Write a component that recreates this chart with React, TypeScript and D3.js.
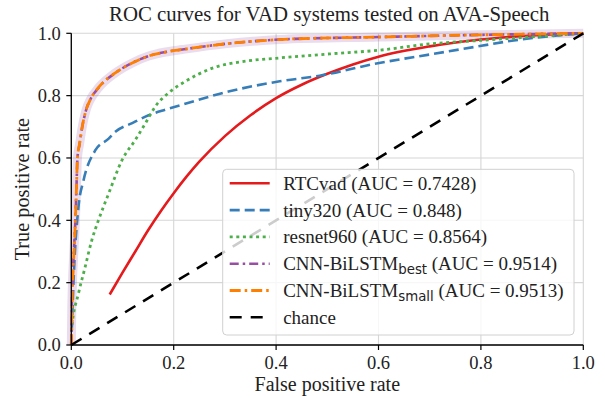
import React from "react"
import * as d3 from "d3"

// ROC points: [false positive rate, true positive rate]
const rtcvad: [number, number][] = [
    [0.075, 0.162], [0.1, 0.232], [0.125, 0.3], [0.15, 0.368], [0.175, 0.43], [0.2, 0.487],
    [0.225, 0.54], [0.25, 0.588], [0.3, 0.67], [0.35, 0.737], [0.4, 0.792], [0.45, 0.835],
    [0.5, 0.87], [0.55, 0.9], [0.6, 0.925], [0.7, 0.958], [0.8, 0.98], [0.9, 0.993], [1, 1],
]
const tiny320: [number, number][] = [
    [0, 0], [0.005, 0.229], [0.014, 0.443], [0.024, 0.529], [0.047, 0.625], [0.073, 0.662],
    [0.086, 0.684], [0.119, 0.712], [0.151, 0.737], [0.184, 0.755], [0.217, 0.771],
    [0.309, 0.814], [0.407, 0.846], [0.485, 0.864], [0.596, 0.903], [0.7, 0.932],
    [0.798, 0.959], [0.864, 0.977], [1, 1],
]
const resnet960: [number, number][] = [
    [0, 0], [0.001, 0.057], [0.014, 0.165], [0.027, 0.25], [0.04, 0.336], [0.053, 0.4],
    [0.073, 0.486], [0.099, 0.593], [0.125, 0.658], [0.145, 0.712], [0.164, 0.765],
    [0.19, 0.809], [0.22, 0.843], [0.277, 0.889], [0.342, 0.911], [0.407, 0.921],
    [0.505, 0.934], [0.603, 0.946], [0.7, 0.966], [0.798, 0.977], [0.896, 0.988], [1, 1],
]
const cnnBest: [number, number][] = [
    [0, 0], [0.001, 0.12], [0.005, 0.3], [0.008, 0.4], [0.01, 0.5], [0.012, 0.6],
    [0.016, 0.643], [0.021, 0.696], [0.03, 0.76], [0.037, 0.787], [0.053, 0.825],
    [0.086, 0.873], [0.119, 0.905], [0.151, 0.927], [0.184, 0.94], [0.217, 0.948],
    [0.3, 0.966], [0.407, 0.98], [0.6, 0.988], [0.8, 0.995], [1, 1],
]
const cnnSmall: [number, number][] = [
    [0, 0], [0.001, 0.1], [0.005, 0.29], [0.008, 0.4], [0.01, 0.5], [0.012, 0.6],
    [0.016, 0.645], [0.021, 0.697], [0.03, 0.76], [0.037, 0.787], [0.053, 0.826],
    [0.086, 0.873], [0.119, 0.905], [0.151, 0.927], [0.184, 0.94], [0.217, 0.948],
    [0.3, 0.966], [0.407, 0.98], [0.6, 0.988], [0.8, 0.995], [1, 1],
]
const chance: [number, number][] = [[0, 0], [1, 1]]

const ticks = [0, 0.2, 0.4, 0.6, 0.8, 1.0]
const legendNames = ["RTCvad", "tiny320", "resnet960", "CNN-BiLSTM", "CNN-BiLSTM", "chance"]
const legendSubs = ["", "", "", "best", "small", ""]
const legendAuc = [" (AUC = 0.7428)", " (AUC = 0.848)", " (AUC = 0.8564)", " (AUC = 0.9514)", " (AUC = 0.9513)", ""]

const W = 605
const H = 398
const margin = { left: 71.3, right: 21.7, top: 33.3, bottom: 53 }
const serif = "'Liberation Serif', 'Times New Roman', serif"

const series = [
    { data: rtcvad, color: "#e41a1c", dash: "none", w: 2.6 },
    { data: tiny320, color: "#377eb8", dash: "10,5", w: 2.6 },
    { data: resnet960, color: "#4daf4a", dash: "3,3.6", w: 2.8 },
    { data: cnnBest, color: "#984ea3", dash: "9,4,2.5,4", w: 2.6 },
    { data: cnnSmall, color: "#ff7f00", dash: "11,4,2.5,4", w: 2.8 },
    { data: chance, color: "#000000", dash: "12,9", w: 2.6 },
]

export default function App() {
    const x = d3.scaleLinear().domain([0, 1]).range([margin.left, W - margin.right])
    const y = d3.scaleLinear().domain([0, 1]).range([H - margin.bottom, margin.top])
    const line = d3.line<[number, number]>().x((d) => x(d[0])).y((d) => y(d[1])).curve(d3.curveMonotoneX)

    const lx = 222.7
    const ly = 169.3
    const rowH = 26.8

    return (
        <svg width={W} height={H} style={{ position: "absolute", left: 0, top: 0 }} fontFamily={serif}>
            <rect width={W} height={H} fill="#fff" />
            {/* grid */}
            {ticks.map((t) => (
                <g key={"g" + t}>
                    <line x1={x(t)} x2={x(t)} y1={y(0)} y2={y(1)} stroke="#d6d6d6" strokeWidth={1.1} />
                    <line x1={x(0)} x2={x(1)} y1={y(t)} y2={y(t)} stroke="#d6d6d6" strokeWidth={1.1} />
                </g>
            ))}
            {/* confidence band of the best model */}
            <path d={line(cnnBest) ?? ""} fill="none" stroke="#984ea3" strokeOpacity={0.2} strokeWidth={9} strokeLinejoin="round" />
            {series.map((s, i) => (
                <path key={"s" + i} d={line(s.data) ?? ""} fill="none" stroke={s.color} strokeWidth={s.w}
                    strokeDasharray={s.dash} />
            ))}
            {/* axes */}
            <line x1={x(0)} x2={x(1)} y1={y(0)} y2={y(0)} stroke="#000" strokeWidth={1.3} />
            <line x1={x(0)} x2={x(0)} y1={y(0)} y2={y(1)} stroke="#000" strokeWidth={1.3} />
            {ticks.map((t) => (
                <g key={"t" + t}>
                    <line x1={x(t)} x2={x(t)} y1={y(0)} y2={y(0) + 5} stroke="#000" strokeWidth={1.2} />
                    <text x={x(t)} y={y(0) + 24} textAnchor="middle" fontSize={18.5} fill="#222">{t.toFixed(1)}</text>
                    <line x1={x(0) - 5} x2={x(0)} y1={y(t)} y2={y(t)} stroke="#000" strokeWidth={1.2} />
                    <text x={x(0) - 10.5} y={y(t) + 6.3} textAnchor="end" fontSize={18.5} fill="#222">{t.toFixed(1)}</text>
                </g>
            ))}
            <text x={(x(0) + x(1)) / 2} y={391} textAnchor="middle" fontSize={20} fill="#222">False positive rate</text>
            <text transform={`translate(29,${(y(0) + y(1)) / 2}) rotate(-90)`} textAnchor="middle" fontSize={20.3} fill="#222">True positive rate</text>
            <text x={(x(0) + x(1)) / 2 + 2} y={21} textAnchor="middle" fontSize={20.8} fill="#222">ROC curves for VAD systems tested on AVA-Speech</text>
            {/* legend */}
            <rect x={lx} y={ly} width={351.3} height={165.7} rx={4} fill="#fff" fillOpacity={0.8} stroke="#d0d0d0" strokeWidth={1} />
            {series.map((s, i) => {
                const cy = ly + 14 + i * rowH
                return (
                    <g key={"l" + i}>
                        <line x1={lx + 7} x2={lx + 47} y1={cy} y2={cy} stroke={s.color} strokeWidth={s.w} strokeDasharray={s.dash} />
                        <text x={lx + 60.5} y={cy + 6.5} fontSize={19} fill="#222">
                            {legendNames[i]}
                            {legendSubs[i] && (
                                <tspan fontFamily="'DejaVu Sans', sans-serif" fontSize={13.3} dy={4}>{legendSubs[i]}</tspan>
                            )}
                            {legendSubs[i] && <tspan dy={-4}>{legendAuc[i]}</tspan>}
                            {!legendSubs[i] && legendAuc[i]}
                        </text>
                    </g>
                )
            })}
        </svg>
    )
}
